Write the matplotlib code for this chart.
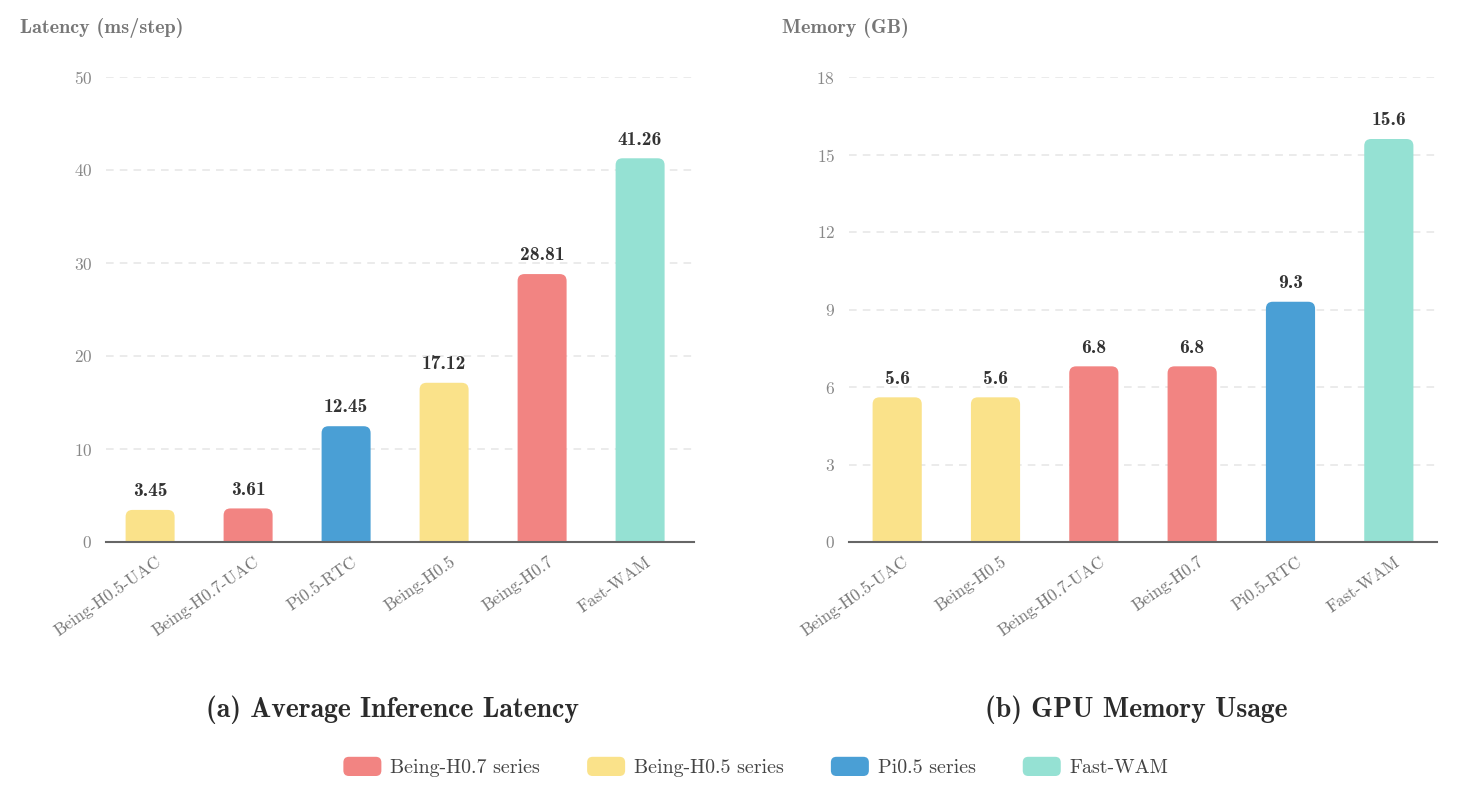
import matplotlib
matplotlib.use("Agg")
import matplotlib.pyplot as plt
import matplotlib.transforms as mtransforms
from matplotlib.patches import FancyBboxPatch, Patch
from matplotlib.legend_handler import HandlerPatch

plt.rcParams['font.family'] = ['cmr10', 'DejaVu Sans']
plt.rcParams['axes.formatter.use_mathtext'] = True

# ------------------ DATA ------------------ #
lat_models = ["Being-H0.5-UAC", "Being-H0.7-UAC", "Pi0.5-RTC", "Being-H0.5", "Being-H0.7", "Fast-WAM"]
lat_values = [3.45, 3.61, 12.45, 17.12, 28.81, 41.26]
lat_series = ["h05", "h07", "pi", "h05", "h07", "wam"]

mem_models = ["Being-H0.5-UAC", "Being-H0.5", "Being-H0.7-UAC", "Being-H0.7", "Pi0.5-RTC", "Fast-WAM"]
mem_values = [5.6, 5.6, 6.8, 6.8, 9.3, 15.6]
mem_series = ["h05", "h05", "h07", "h07", "pi", "wam"]

colors = {"h07": "#F28482", "h05": "#FAE28A", "pi": "#4A9FD5", "wam": "#95E1D3"}
legend_names = {"h07": "Being-H0.7 series", "h05": "Being-H0.5 series",
                "pi": "Pi0.5 series", "wam": "Fast-WAM"}

BOLD = ['cmb10', 'DejaVu Sans']

W, H = 1459, 799
fig = plt.figure(figsize=(W / 100, H / 100), dpi=100)

ax1 = fig.add_axes([106 / W, 1 - 542 / H, (694 - 106) / W, (542 - 77) / H])
ax2 = fig.add_axes([849 / W, 1 - 542 / H, (1437 - 849) / W, (542 - 77) / H])


def draw(ax, models, values, series, ymax, yticks, fmt, xlim, ylabel, ylabel_x, title):
    xs = list(range(len(models)))
    ax.set_xlim(*xlim)
    ax.set_ylim(0, ymax)
    bars = ax.bar(xs, values, width=0.5, color=[colors[s] for s in series])

    # swap plain bars for rounded-top patches
    bbox = ax.get_window_extent()
    px_per_x = bbox.width / (xlim[1] - xlim[0])
    px_per_y = bbox.height / ymax
    r = 0.07
    aspect = px_per_x / px_per_y
    for b in bars:
        b.set_visible(False)
        x0, w, h = b.get_x(), b.get_width(), b.get_height()
        p = FancyBboxPatch((x0, -r * aspect * 2), w, h + r * aspect * 2,
                           boxstyle=f"round,pad=0,rounding_size={r}",
                           mutation_aspect=aspect,
                           facecolor=b.get_facecolor(), edgecolor="none", zorder=3)
        ax.add_patch(p)
        ax.text(x0 + w / 2, h + ymax * 0.021, fmt.format(h), ha="center", va="bottom",
                fontsize=14, family=BOLD, color="#333333", zorder=4)

    ax.set_yticks(yticks)
    ax.grid(axis="y", linestyle=(0, (5, 4)), color="#e6e6e6", linewidth=1.1, zorder=0)
    ax.set_axisbelow(True)
    for s in ["top", "right", "left"]:
        ax.spines[s].set_visible(False)
    ax.spines["bottom"].set_color("#666666")
    ax.spines["bottom"].set_linewidth(1.5)
    ax.spines["bottom"].set_zorder(5)
    ax.tick_params(axis="y", length=0, pad=10, labelsize=12.5, labelcolor="#888888")
    ax.tick_params(axis="x", length=0, pad=0, labelsize=12.3, labelcolor="#777777")
    ax.set_xticks(xs)
    ax.set_xticklabels(models, rotation=35, ha="right", va="top", rotation_mode="anchor")
    shift = mtransforms.ScaledTranslation(5 / 100, -12 / 100, fig.dpi_scale_trans)
    for lbl in ax.get_xticklabels():
        lbl.set_transform(lbl.get_transform() + shift)
    fig.text(ylabel_x / W, 1 - 28 / H, ylabel, ha="left", va="center",
             fontsize=14.5, family=BOLD, color="#777777")
    pos = ax.get_position()
    fig.text(pos.x0 + pos.width / 2 - 7 / W, 1 - 710 / H, title, ha="center", va="center",
             fontsize=20, family=BOLD, color="#2b2b2b")


draw(ax1, lat_models, lat_values, lat_series, 50, [0, 10, 20, 30, 40, 50], "{:.2f}",
     (-0.45, 5.55), "Latency (ms/step)", 20, "(a) Average Inference Latency")
draw(ax2, mem_models, mem_values, mem_series, 18, [0, 3, 6, 9, 12, 15, 18], "{:.1f}",
     (-0.49, 5.49), "Memory (GB)", 782, "(b) GPU Memory Usage")


def rounded_handle(legend, orig_handle, xdescent, ydescent, width, height, fontsize):
    return FancyBboxPatch((-xdescent, -ydescent), width, height,
                          boxstyle="round,pad=0,rounding_size=4")


handles = [Patch(facecolor=colors[k], edgecolor="none", label=legend_names[k])
           for k in ["h07", "h05", "pi", "wam"]]
fig.legend(handles=handles, loc="center", bbox_to_anchor=(756 / W, 1 - 767 / H), ncol=4,
           frameon=False, fontsize=14.4, labelcolor="#444444", handlelength=1.9,
           handleheight=1.1, columnspacing=2.35, handletextpad=0.45,
           handler_map={Patch: HandlerPatch(patch_func=rounded_handle)})

fig.savefig("out.png", dpi=100, facecolor="white")
